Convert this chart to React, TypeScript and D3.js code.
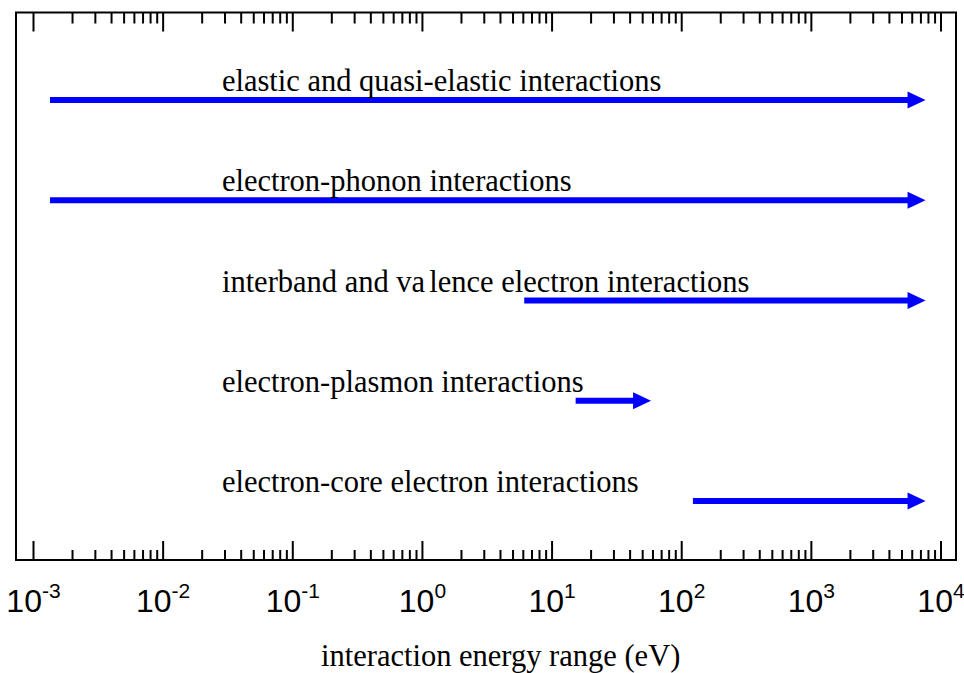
import React from "react";
import * as d3 from "d3";

const categories = [
  "elastic and quasi-elastic interactions",
  "electron-phonon interactions",
  "interband and valence electron interactions",
  "electron-plasmon interactions",
  "electron-core electron interactions",
];
const rangeStart = [0.00134, 0.00134, 6.1, 15.2, 122];
const rangeEnd = [7600, 7600, 7600, 58, 7600];
const tickExponents = [-3, -2, -1, 0, 1, 2, 3, 4];
const labelAt = 0.0284;

const W = 964;
const H = 673;
const frame = { left: 16, right: 956, top: 12.5, bottom: 560 };

export default function App() {
  const x = d3.scaleLog().domain([1e-3, 1e4]).range([33.5, 941]);
  const y = d3.scalePoint<string>().domain(categories).range([100, 501]);

  const majors = tickExponents.map((e) => Math.pow(10, e));
  const minors: number[] = [];
  for (let e = -3; e < 4; e++) {
    for (let m = 2; m <= 9; m++) minors.push(m * Math.pow(10, e));
  }

  const serif = "'Liberation Serif', 'Times New Roman', serif";
  const sans = "'Liberation Sans', Arial, sans-serif";
  const headLen = 18;
  const headHalf = 8.5;

  return (
    <svg
      width={W}
      height={H}
      style={{ position: "absolute", left: 0, top: 0, background: "#fff" }}
    >
      <rect
        x={frame.left}
        y={frame.top}
        width={frame.right - frame.left}
        height={frame.bottom - frame.top}
        fill="none"
        stroke="#000"
        strokeWidth={2}
      />
      {majors.map((v, i) => (
        <g key={"M" + i} stroke="#000" strokeWidth={2}>
          <line x1={x(v)} x2={x(v)} y1={frame.bottom} y2={frame.bottom - 19} />
          <line x1={x(v)} x2={x(v)} y1={frame.top} y2={frame.top + 19} />
        </g>
      ))}
      {minors.map((v, i) => (
        <g key={"m" + i} stroke="#000" strokeWidth={2}>
          <line x1={x(v)} x2={x(v)} y1={frame.bottom} y2={frame.bottom - 10} />
          <line x1={x(v)} x2={x(v)} y1={frame.top} y2={frame.top + 11} />
        </g>
      ))}
      {tickExponents.map((e, i) => (
        <text
          key={"t" + i}
          x={x(Math.pow(10, e))}
          y={612}
          textAnchor="middle"
          fontFamily={sans}
          fontSize={32}
          fill="#000"
        >
          10
          <tspan dy={-14} fontSize={21}>
            {String(e)}
          </tspan>
        </text>
      ))}
      {categories.map((c, i) => {
        const yy = y(c) as number;
        const x0 = x(rangeStart[i]);
        const x1 = x(rangeEnd[i]);
        return (
          <g key={"a" + i}>
            <line
              x1={x0}
              x2={x1 - headLen + 1}
              y1={yy}
              y2={yy}
              stroke="#0000ff"
              strokeWidth={6}
            />
            <polygon
              points={`${x1},${yy} ${x1 - headLen},${yy - headHalf} ${x1 - headLen},${yy + headHalf}`}
              fill="#0000ff"
            />
            <text
              x={x(labelAt)}
              y={yy - 9}
              fontFamily={serif}
              fontSize={30.5}
              fill="#000"
            >
              {i === 2 ? (
                <>
                  interband and va<tspan dx={4}>lence electron interactions</tspan>
                </>
              ) : (
                c
              )}
            </text>
          </g>
        );
      })}
      <text
        x={321}
        y={666}
        fontFamily={serif}
        fontSize={30.5}
        fill="#000"
      >
        interaction energy range (eV)
      </text>
    </svg>
  );
}
